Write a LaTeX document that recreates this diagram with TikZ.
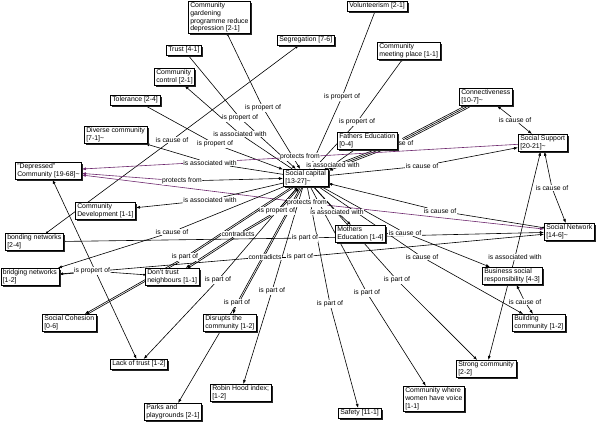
\documentclass[tikz,border=0pt]{standalone}
\usepackage{fontspec}
\setmainfont{Liberation Sans}
\usetikzlibrary{arrows.meta,shadows}
\pgfdeclarelayer{bg}
\pgfsetlayers{bg,main}
\definecolor{plink}{RGB}{110,40,110}
\tikzset{
 concept/.style={draw=black, line width=0.5pt, fill=white, anchor=north west, align=left,
   inner xsep=2pt, inner ysep=1.6pt, font=\fontsize{6.9}{7.6}\selectfont,
   drop shadow={shadow xshift=1.8pt, shadow yshift=-1.8pt, fill=black!85, opacity=1}},
 lbl/.style={fill=white, inner sep=0.4pt, font=\fontsize{6.8}{7.5}\selectfont},
 lnk/.style={line width=0.6pt},
 arr/.style={lnk, -{Latex[length=4pt,width=3pt]}},
 arrtwo/.style={lnk, {Latex[length=4pt,width=3pt]}-{Latex[length=4pt,width=3pt]}},
 srcdot/.style={lnk, {Circle[length=2pt]}-},
 pur/.style={draw=plink, color=plink}
}
\begin{document}
\begin{tikzpicture}[x=1pt,y=-1pt]
\useasboundingbox (0,0) rectangle (600,427);
% link labels
\node[lbl] (L1) at (263,108) {is propert of};
\node[lbl] (L2) at (240,118) {is propert of};
\node[lbl] (L3) at (240,134) {is associated with};
\node[lbl] (L4) at (215,144) {is propert of};
\node[lbl] (L5) at (172,140) {is cause of};
\node[lbl] (L6) at (342,97) {is propert of};
\node[lbl] (L7) at (357,122) {is propert of};
\node[lbl] (L8) at (333,165) {is associated with};
\node[lbl] (L9) at (397,143) {is cause of};
\node[lbl] (L10) at (422,166) {is cause of};
\node[lbl] (L11) at (300,157) {protects from};
\node[lbl] (L12) at (210,163) {is associated with};
\node[lbl] (L13) at (182,181) {protects from};
\node[lbl] (L14) at (307,203) {protects from};
\node[lbl] (L15) at (210,200) {is associated with};
\node[lbl] (L16) at (172,232) {is cause of};
\node[lbl] (L17) at (305,238) {is part of};
\node[lbl] (L18) at (405,233) {is cause of};
\node[lbl] (L19) at (265,257) {contradicts};
\node[lbl] (L20) at (300,257) {is part of};
\node[lbl] (L21) at (92,271) {is propert of};
\node[lbl] (L22) at (238,234) {contradicts};
\node[lbl] (L23) at (277,211) {is propert of};
\node[lbl] (L24) at (185,257) {is part of};
\node[lbl] (L25) at (218,280) {is part of};
\node[lbl] (L26) at (237,303) {is part of};
\node[lbl] (L27) at (272,291) {is part of};
\node[lbl] (L28) at (330,304) {is part of};
\node[lbl] (L29) at (367,293) {is part of};
\node[lbl] (L30) at (397,280) {is part of};
\node[lbl] (L31) at (337,212) {is associated with};
\node[lbl] (L32) at (440,211) {is cause of};
\node[lbl] (L33) at (422,257) {is cause of};
\node[lbl] (L34) at (552,188) {is cause of};
\node[lbl] (L35) at (515,120) {is cause of};
\node[lbl] (L36) at (515,257) {is associated with};
\node[lbl] (L37) at (525,302) {is cause of};
% concepts
\node[concept] (gard) at (188,1) {Community\\gardening\\programme reduce\\depression [2-1]};
\node[concept] (segr) at (277,35) {Segregation [7-6]};
\node[concept] (volu) at (347,1) {Volunteerism [2-1]};
\node[concept] (trust) at (166,45) {Trust [4-1]};
\node[concept] (cctrl) at (154,68) {Community\\control [2-1]};
\node[concept] (cmeet) at (377,42) {Community\\meeting place [1-1]};
\node[concept] (toler) at (110,95) {Tolerance [2-4]};
\node[concept] (diverse) at (84,126) {Diverse community\\{}[7-1]\textasciitilde};
\node[concept] (connect) at (459,88) {Connectiveness\\{}[10-7]\textasciitilde};
\node[concept] (father) at (337,132) {Fathers Education\\{}[0-4]};
\node[concept] (ssupp) at (518,134) {Social Support\\{}[20-21]\textasciitilde};
\node[concept] (depr) at (15,162) {"Depressed"\\Community [19-68]\textasciitilde};
\node[concept] (sc) at (283,169) {Social capital\\{}[13-27]\textasciitilde};
\node[concept] (cdev) at (75,202) {Community\\Development [1-1]};
\node[concept] (bond) at (5,233) {bonding networks\\{}[2-4]};
\node[concept] (mother) at (335,225) {Mothers\\Education [1-4]};
\node[concept] (snet) at (544,223) {Social Network\\{}[14-6]\textasciitilde};
\node[concept] (bridg) at (0.5,268) {bridging networks\\{}[1-2]};
\node[concept] (dtn) at (145,268) {Don't trust\\neighbours [1-1]};
\node[concept] (bsr) at (482,267) {Business social\\responsibility [4-3]};
\node[concept] (scoh) at (42,314) {Social Cohesion\\{}[0-6]};
\node[concept] (disr) at (203,314) {Disrupts the\\community [1-2]};
\node[concept] (build) at (512,314) {Building\\community [1-2]};
\node[concept] (lack) at (110,359) {Lack of trust [1-2]};
\node[concept] (strong) at (456,360) {Strong community\\{}[2-2]};
\node[concept] (robin) at (210,384) {Robin Hood index;\\{}[1-2]};
\node[concept] (women) at (403,386) {Community where\\women have voice\\{}[1-1]};
\node[concept] (parks) at (144,403) {Parks and\\playgrounds [2-1]};
\node[concept] (safety) at (338,408) {Safety [11-1]};
% connectors
\begin{pgfonlayer}{bg}
\fill[white] (0,0) rectangle (600,427);
\draw[srcdot] (gard) -- (L1); \draw[arr] (L1) -- (sc);
\draw[srcdot] (trust) -- (L2); \draw[arr] (L2) -- (sc);
\draw[lnk] (sc) -- (L3); \draw[arr] (L3) -- (cctrl);
\draw[srcdot] (toler) -- (L4); \draw[arr] (L4) -- (sc);
\draw[srcdot] (bond) -- (L5); \draw[arr] (L5) -- (segr);
\draw[srcdot] (volu) -- (L6); \draw[arr] (L6) -- (sc);
\draw[srcdot] (cmeet) -- (L7); \draw[arr] (L7) -- (sc);
\draw[lnk] (father) -- (L8); \draw[arr] (L8) -- (sc);
\foreach \s in {(0pt,0pt),(0.7pt,-1.4pt),(-0.7pt,1.4pt)}{
  \draw[lnk,transform canvas={shift={\s}}] (connect) -- (L9);
  \draw[arr,transform canvas={shift={\s}}] (L9) -- (sc);}
\draw[lnk] (sc) -- (L10); \draw[arr] (L10) -- (ssupp);
\draw[lnk,pur] (ssupp) -- (L11); \draw[arr,pur] (L11) -- (depr);
\draw[lnk] (sc) -- (L12); \draw[arr] (L12) -- (diverse);
\draw[arr] (L13) -- (sc); \draw[arr,pur] (L13) -- (depr);
\draw[arr,pur] (L14) -- (depr); \draw[arr,pur] (L14) -- (snet);
\draw[lnk] (sc) -- (L15); \draw[arr] (L15) -- (cdev);
\draw[lnk] (sc) -- (L16); \draw[arr] (L16) -- (bridg);
\draw[srcdot] (bond) -- (L17); \draw[arr] (L17) -- (snet);
\draw[lnk] (sc) -- (L18); \draw[arr] (L18) -- (bsr);
\draw[srcdot] (bridg) -- (L19); \draw[lnk] (L19) -- (L20); \draw[arr] (L20) -- (snet);
\draw[srcdot] (dtn) -- (L21); \draw[arr] (L21) -- (bridg);
\draw[arrtwo] (lack) -- (depr);
\foreach \s in {(0pt,0pt),(1pt,-1.2pt)}{
  \draw[arr,transform canvas={shift={\s}}] (L22) -- (dtn);
  \draw[lnk,transform canvas={shift={\s}}] (L22) -- (L23);
  \draw[arr,transform canvas={shift={\s}}] (L23) -- (sc);}
\foreach \s in {(0pt,0pt),(0.8pt,-1.3pt)}{
  \draw[lnk,transform canvas={shift={\s}}] (sc) -- (L24);
  \draw[arr,transform canvas={shift={\s}}] (L24) -- (scoh);}
\draw[lnk] (sc) -- (L25); \draw[arr] (L25) -- (lack);
\foreach \s in {(0pt,0pt),(1.4pt,-0.6pt)}{
  \draw[lnk,transform canvas={shift={\s}}] (sc) -- (L26);}
\draw[arr] (L26) -- (disr); \draw[arr] (L26) -- (parks);
\draw[lnk] (sc) -- (L27); \draw[arr] (L27) -- (robin);
\draw[lnk] (sc) -- (L28); \draw[arr] (L28) -- (safety);
\draw[lnk] (sc) -- (L29); \draw[arr] (L29) -- (women);
\draw[lnk] (sc) -- (L30); \draw[arr] (L30) -- (strong);
\draw[lnk] (sc) -- (L31); \draw[arr] (L31) -- (mother);
\draw[srcdot] (snet) -- (L32); \draw[arr] (L32) -- (sc);
\draw[lnk] (sc) -- (L33); \draw[arr] (L33) -- (build);
\draw[arr] (L34) -- (ssupp); \draw[arr] (L34) -- (snet);
\draw[arr] (L35) -- (connect); \draw[arr] (L35) -- (ssupp);
\draw[arr] (L36) -- (strong); \draw[arr] (L36) -- (ssupp);
\draw[arr] (L37) -- (bsr); \draw[arr] (L37) -- (build);
\end{pgfonlayer}
\end{tikzpicture}
\end{document}
